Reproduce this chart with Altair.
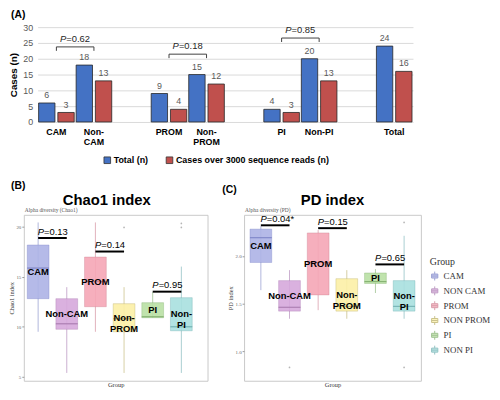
import altair as alt
import pandas as pd

# ---------------- Panel A data ----------------
a_categories = ["CAM", "Non-CAM", "PROM", "Non-PROM", "PI", "Non-PI", "Total"]
a_total = [6, 18, 9, 15, 4, 20, 24]
a_over3000 = [3, 13, 4, 12, 3, 13, 16]
a_series = ["Total (n)", "Cases over 3000 sequence reads (n)"]
a_colors = ["#4472C4", "#C0504D"]
a_slots = ["CAM", "Non-CAM", " ", "PROM", "Non-PROM", "  ", "PI", "Non-PI", "   ", "Total"]
a_pair_left = ["CAM", "PROM", "PI"]
a_pair_right = ["Non-CAM", "Non-PROM", "Non-PI"]
a_bracket_h = [23.75, 21.45, 26.55]
a_pvals = ["=0.62", "=0.18", "=0.85"]
a_yticks = [0, 5, 10, 15, 20, 25, 30]

# ---------------- Panels B / C data ----------------
groups = ["CAM", "NON CAM", "PROM", "NON PROM", "PI", "NON PI"]
box_labels = ["CAM", "Non-CAM", "PROM", "Non-\nPROM", "PI", "Non-\nPI"]
box_fill = ["#adb3e6", "#d6a9dc", "#f5a6b6", "#fcf0a6", "#b9e0a4", "#a8e0df"]
box_line = ["#7c84c6", "#a97bb0", "#cc7d8e", "#b9ae66", "#7fae6c", "#6eaeb0"]

chao_min = [9.5, 5.4, 9.5, 5.4, 10.9, 5.4]
chao_q1 = [12.8, 9.75, 12.0, 9.5, 10.9, 9.6]
chao_med = [15.85, 10.3, 14.5, 10.8, 11.0, 10.0]
chao_q3 = [18.15, 12.8, 16.95, 12.3, 12.4, 12.9]
chao_max = [20.4, 13.95, 20.4, 13.95, 13.45, 16.0]
chao_out_groups = ["NON PROM", "NON PI", "NON PI"]
chao_out_vals = [19.9, 20.3, 19.9]
chao_pair_h = [18.85, 17.5, 13.5]
chao_pvals = ["=0.13", "=0.14", "=0.95"]

pd_min = [1.64, 1.34, 1.43, 1.34, 1.61, 1.34]
pd_q1 = [1.93, 1.42, 1.59, 1.42, 1.71, 1.42]
pd_med = [2.19, 1.46, 1.93, 1.47, 1.73, 1.47]
pd_q3 = [2.28, 1.74, 2.24, 1.76, 1.82, 1.74]
pd_max = [2.31, 1.85, 2.27, 1.85, 1.86, 2.21]
pd_out_groups = ["NON CAM", "NON PI", "NON PI"]
pd_out_vals = [0.83, 2.35, 0.83]
pd_pair_h = [2.32, 2.29, 1.91]
pd_pvals = ["=0.04*", "=0.15", "=0.65"]

pair_left = ["CAM", "PROM", "PI"]
pair_right = ["NON CAM", "NON PROM", "NON PI"]

SANS = "Liberation Sans"
SERIF = "Liberation Serif"
BOX_ICON = "M-0.7,-0.45H0.7V0.45H-0.7Z M-0.7,0H0.7 M0,-0.45V-1 M0,0.45V1"


def note(txt, x, y, size, weight="bold", font=SANS, color="black", align="left", style="normal"):
    return alt.Chart(pd.DataFrame({"k": [0]})).mark_text(
        text=txt, align=align, baseline="middle", fontSize=size, fontWeight=weight,
        font=font, color=color, fontStyle=style
    ).encode(x=alt.value(x), y=alt.value(y))


# ---------------- Panel A ----------------
rows = []
for c, t, o in zip(a_categories, a_total, a_over3000):
    rows.append({"cat": c, "series": a_series[0], "value": t})
    rows.append({"cat": c, "series": a_series[1], "value": o})
dfA = pd.DataFrame(rows)

DROP = 1.25
brows = []
for i, (l, r, h) in enumerate(zip(a_pair_left, a_pair_right, a_bracket_h)):
    brows += [{"pair": i, "cat": l, "value": h - DROP, "o": 0},
              {"pair": i, "cat": l, "value": h, "o": 1},
              {"pair": i, "cat": r, "value": h, "o": 2},
              {"pair": i, "cat": r, "value": h - DROP, "o": 3}]
dfBr = pd.DataFrame(brows)
dfP = pd.DataFrame({"cat": a_pair_left, "value": a_bracket_h, "p": a_pvals})

xA_scale = alt.Scale(domain=a_slots, paddingInner=0, paddingOuter=0)
xA_axis = alt.Axis(
    title=None, ticks=False, domain=False, labelAngle=0, labelFontWeight="bold",
    labelFontSize=9, labelColor="black", labelPadding=6, labelLineHeight=10,
    labelExpr="datum.label == 'Non-CAM' || datum.label == 'Non-PROM' ? ['Non-', substring(datum.label, 4)] : datum.label",
)
yA_scale = alt.Scale(domain=[0, 30], nice=False)
yA_axis = alt.Axis(
    title="Cases (n)", titleFontWeight="bold", titleFontSize=10, titleColor="black",
    values=a_yticks, labelColor="#595959", labelFontSize=9, ticks=False, domain=False,
    gridColor="#d9d9d9", labelPadding=5, titlePadding=4,
)


def XA(**kw):
    return alt.X("cat:N", scale=xA_scale, axis=xA_axis, title=None, **kw)


def YA():
    return alt.Y("value:Q", scale=yA_scale, axis=yA_axis)


xoff = alt.XOffset("series:N", scale=alt.Scale(domain=a_series, paddingInner=0.15, paddingOuter=0.05))

barsA = alt.Chart(dfA).mark_bar(stroke="#262626", strokeWidth=0.8).encode(
    x=XA(), xOffset=xoff, y=YA(),
    color=alt.Color("series:N", scale=alt.Scale(domain=a_series, range=a_colors),
                    legend=alt.Legend(title=None, orient="none", legendX=80, legendY=130,
                                      direction="horizontal", symbolType="square", symbolSize=45,
                                      symbolStrokeColor="#333", symbolStrokeWidth=0.8,
                                      labelFontWeight="bold", labelFontSize=9, labelColor="black",
                                      columnPadding=16, labelOffset=2)),
)
valsA = alt.Chart(dfA).mark_text(baseline="bottom", dy=-3, fontSize=9, color="#595959").encode(
    x=XA(), xOffset=xoff, y=YA(), text=alt.Text("value:Q")
)
bracketA = alt.Chart(dfBr).mark_line(color="#404040", strokeWidth=1).encode(
    x=XA(), y=YA(), detail="pair:N", order=alt.Order("o:Q")
)
pA1 = alt.Chart(dfP).mark_text(text="P", align="right", dx=-9, dy=-8, fontSize=9.5,
                               fontStyle="italic", color="#262626").encode(x=XA(bandPosition=1), y=YA())
pA2 = alt.Chart(dfP).mark_text(align="left", dx=-9, dy=-8, fontSize=9.5, color="#262626").encode(
    x=XA(bandPosition=1), y=YA(), text="p:N")

chartA = alt.layer(barsA, valsA, bracketA, pA1, pA2,
                   note("(A)", -27, -12, 10.5)).properties(width=380, height=96)

spacer = alt.Chart(pd.DataFrame({"k": [0]})).mark_text(text="").encode(
    x=alt.value(0), y=alt.value(0)).properties(width=14, height=10)


# ---------------- Panels B / C ----------------
def box_panel(mins, q1s, meds, q3s, maxs, og, ov, ph, pv, ydomain, yticks, yfmt, ytitle,
              width, pad_outer, align, title, title_dx, subtitle, letter, letter_xy, show_legend):
    df = pd.DataFrame({"group": groups, "lo": mins, "q1": q1s, "med": meds, "q3": q3s,
                       "hi": maxs, "label": box_labels})
    dfo = pd.DataFrame({"group": og, "val": ov})
    prow = []
    for i, (l, r, h) in enumerate(zip(pair_left, pair_right, ph)):
        prow += [{"pair": i, "group": l, "h": h}, {"pair": i, "group": r, "h": h}]
    dfpl = pd.DataFrame(prow)
    dfpt = pd.DataFrame({"group": pair_left, "h": ph, "p": pv})

    xs = alt.Scale(domain=groups, paddingInner=0, paddingOuter=pad_outer, align=align)
    xax = alt.Axis(title="Group", labels=False, ticks=False, domain=False, titleFont=SERIF,
                   titleFontSize=6.5, titleFontWeight="normal", titleColor="#333", titlePadding=1)
    ys = alt.Scale(domain=ydomain, nice=False, zero=False)
    yax = alt.Axis(title=ytitle, values=yticks, format=yfmt, grid=False, domain=False, tickSize=2,
                   tickColor="#999", labelFontSize=5, labelFont=SERIF, labelColor="#666",
                   labelPadding=1, titleFont=SERIF, titleFontSize=6.5, titleFontWeight="normal",
                   titleColor="#333", titlePadding=1)

    def X(**kw):
        return alt.X("group:N", scale=xs, axis=xax, **kw)

    def Y(f):
        return alt.Y(f + ":Q", scale=ys, axis=yax)

    if show_legend:
        leg = alt.Legend(title="Group", orient="none", legendX=188, legendY=43, symbolType=BOX_ICON,
                         symbolSize=81, symbolStrokeWidth=1, labelFont=SERIF, labelFontSize=9,
                         titleFont=SERIF, titleFontSize=10, titleFontWeight="normal",
                         labelColor="#333", titleColor="#333", rowPadding=1, titlePadding=4)
    else:
        leg = None
    F = alt.Fill("group:N", scale=alt.Scale(domain=groups, range=box_fill), legend=leg)
    S = alt.Stroke("group:N", scale=alt.Scale(domain=groups, range=box_line), legend=leg)

    whisk = alt.Chart(df).mark_rule(strokeWidth=0.8, opacity=0.75).encode(
        x=X(), y=Y("lo"), y2="hi", stroke=S)
    boxes = alt.Chart(df).mark_bar(width=alt.RelativeBandSize(0.76), fillOpacity=0.9,
                                   strokeWidth=0.6, strokeOpacity=0.6).encode(
        x=X(), y=Y("q1"), y2="q3", fill=F, stroke=S)
    med = alt.Chart(df).mark_bar(width=alt.RelativeBandSize(0.76), fillOpacity=0,
                                 strokeWidth=0.7).encode(x=X(), y=Y("med"), y2="med", stroke=S)
    outl = alt.Chart(dfo).mark_circle(size=3, color="#b5b5b5", opacity=1).encode(x=X(), y=Y("val"))
    labs = alt.Chart(df).transform_calculate(mid="(datum.q1 + datum.q3) / 2").mark_text(
        fontWeight="bold", fontSize=9.5, lineBreak="\n", color="black", baseline="middle",
        lineHeight=11).encode(x=X(), y=Y("mid"), text="label:N")
    pbar = alt.Chart(dfpl).mark_line(color="black", strokeWidth=2).encode(
        x=X(), y=Y("h"), detail="pair:N")
    pt1 = alt.Chart(dfpt).mark_text(text="P", align="right", dx=-8.5, dy=-6.5, fontSize=9.5,
                                    fontStyle="italic", color="black").encode(x=X(bandPosition=1), y=Y("h"))
    pt2 = alt.Chart(dfpt).mark_text(align="left", dx=-8.5, dy=-6.5, fontSize=9.5,
                                    color="black").encode(x=X(bandPosition=1), y=Y("h"), text="p:N")
    t_main = note(title, width / 2 + title_dx, -15, 15, align="center")
    t_sub = note(subtitle, 1, -5, 5.5, weight="normal", font=SERIF, color="#555")
    t_letter = note(letter, letter_xy[0], letter_xy[1], 10.5)
    return alt.layer(whisk, boxes, med, outl, labs, pbar, pt1, pt2, t_main, t_sub, t_letter).properties(
        width=width, height=168, view=alt.ViewBackground(stroke="#c8c8c8", strokeWidth=1))


chartB = box_panel(chao_min, chao_q1, chao_med, chao_q3, chao_max, chao_out_groups, chao_out_vals,
                   chao_pair_h, chao_pvals, [4.62, 21.16], [5, 10, 15, 20], "d", "Chao1 index",
                   186, 0.207, 0.0, "Chao1 index", -9, "Alpha diversity (Chao1)", "(B)", (-13, -29), False)
chartC = box_panel(pd_min, pd_q1, pd_med, pd_q3, pd_max, pd_out_groups, pd_out_vals,
                   pd_pair_h, pd_pvals, [0.69, 2.43], [1.0, 1.5, 2.0], ".1f", "PD index",
                   179, 0.086, 0.5, "PD index", 0, "Alpha diversity (PD)", "(C)", (-22, -25), True)

rowA = alt.hconcat(spacer, chartA, spacing=0, bounds="flush")
rowBC = alt.hconcat(chartB, chartC, spacing=37, bounds="flush").resolve_scale(
    x="independent", y="independent", fill="independent", stroke="independent")

chart = alt.vconcat(rowA, rowBC, spacing=190, bounds="flush").resolve_scale(
    color="independent", fill="independent", stroke="independent", x="independent", y="independent"
).properties(padding=0).configure(font=SANS).configure_view(stroke=None)

chart.save("out.html", embed_options={"renderer": "svg", "actions": False})
